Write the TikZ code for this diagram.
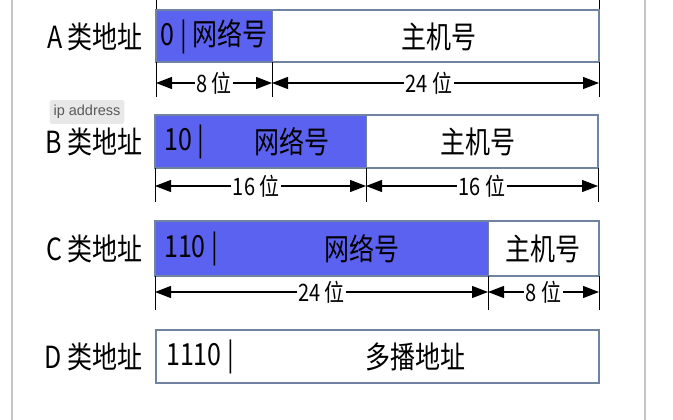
\documentclass[tikz,border=0pt]{standalone}
\usepackage{fontspec}
\setmainfont{Noto Sans CJK SC}
\newfontfamily\tipfont{Liberation Sans}
\usetikzlibrary{arrows.meta}
\definecolor{netblue}{RGB}{92,98,240}
\definecolor{boxedge}{RGB}{112,132,162}
\definecolor{framegray}{RGB}{196,196,196}
\begin{document}
\begin{tikzpicture}[x=1pt, y=-1pt,
    field/.style={draw=boxedge, line width=1.4pt},
    big/.style={font=\fontsize{25}{25}\selectfont, inner sep=0pt, yscale=1.22, transform shape},
    small/.style={font=\fontsize{20}{20}\selectfont, inner sep=1.5pt, fill=white, yscale=1.2, transform shape},
    dim/.style={line width=1.2pt, {Triangle[length=16pt,width=12pt]}-{Triangle[length=16pt,width=12pt]}},
    tick/.style={line width=1pt}]
    \useasboundingbox (0,0) rectangle (673,420);
    \def\l{156}
    \def\r{599}
    \def\lab{143}

    % Frame lines at the sides
    \draw[framegray, line width=1.2pt] (12,0) -- (12,420);
    \draw[framegray, line width=1.2pt] (645,0) -- (645,420);

    % Ticks left over from the row above
    \draw[tick] (\l,0) -- (\l,10);
    \draw[tick] (\r,0) -- (\r,10);

    % A class: 8 + 24 bits
    \fill[netblue] (\l,10) rectangle (272,62);
    \draw[field] (\l,10) rectangle (\r,62);
    \draw[boxedge, line width=1pt] (272,10) -- (272,62);
    \node[big, anchor=east] (labA) at (\lab,37) {A 类地址};
    \node[big] (netA) at (214,37) {0 | 网络号};
    \node[big] (hostA) at (439,37) {主机号};
    \coordinate (a0) at (\l,83);
    \coordinate (a1) at (272,83);
    \coordinate (a2) at (\r,83);
    \draw[tick] (\l,62) -- (\l,97);
    \draw[tick] (272,62) -- (272,97);
    \draw[tick] (\r,62) -- (\r,97);
    \draw[dim] (a0) -- (a1) node[small, midway] (bitsA1) {8 位};
    \draw[dim] (a1) -- (a2) node[small, pos=0.48] (bitsA2) {24 位};

    % Tooltip
    \node[fill=black!9, rounded corners=2pt, text=black!65, inner xsep=4pt, inner ysep=5pt,
          font=\tipfont\fontsize{14.5}{14.5}\selectfont] (tip) at (87,112) {ip address};

    % B class: 16 + 16 bits
    \fill[netblue] (155,115) rectangle (366,168);
    \draw[field] (155,115) rectangle (598,168);
    \draw[boxedge, line width=1pt] (366,115) -- (366,168);
    \node[big, anchor=east] (labB) at (\lab,142) {B 类地址};
    \node[big, anchor=west] (preB) at (164,142) {10 |};
    \node[big] (netB) at (292,142) {网络号};
    \node[big] (hostB) at (478,142) {主机号};
    \coordinate (b0) at (155,186);
    \coordinate (b1) at (366,186);
    \coordinate (b2) at (598,186);
    \draw[tick] (155,168) -- (155,202);
    \draw[tick] (366,168) -- (366,202);
    \draw[tick] (598,168) -- (598,202);
    \draw[dim] (b0) -- (b1) node[small, pos=0.48] (bitsB1) {16 位};
    \draw[dim] (b1) -- (b2) node[small, pos=0.5] (bitsB2) {16 位};

    % C class: 24 + 8 bits
    \fill[netblue] (155,221) rectangle (488,276);
    \draw[field] (155,221) rectangle (\r,276);
    \draw[boxedge, line width=1pt] (488,221) -- (488,276);
    \node[big, anchor=east] (labC) at (\lab,249) {C 类地址};
    \node[big, anchor=west] (preC) at (164,249) {110 |};
    \node[big] (netC) at (362,249) {网络号};
    \node[big] (hostC) at (543,249) {主机号};
    \coordinate (c0) at (155,292);
    \coordinate (c1) at (488,292);
    \coordinate (c2) at (\r,292);
    \draw[tick] (155,276) -- (155,310);
    \draw[tick] (488,276) -- (488,310);
    \draw[tick] (\r,276) -- (\r,310);
    \draw[dim] (c0) -- (c1) node[small, pos=0.5] (bitsC1) {24 位};
    \draw[dim] (c1) -- (c2) node[small, midway] (bitsC2) {8 位};

    % D class: multicast
    \draw[field] (\l,330) rectangle (\r,383);
    \node[big, anchor=east] (labD) at (\lab,357) {D 类地址};
    \node[big, anchor=west] (preD) at (166,357) {1110 |};
    \node[big] (mcD) at (415,357) {多播地址};
\end{tikzpicture}
\end{document}
